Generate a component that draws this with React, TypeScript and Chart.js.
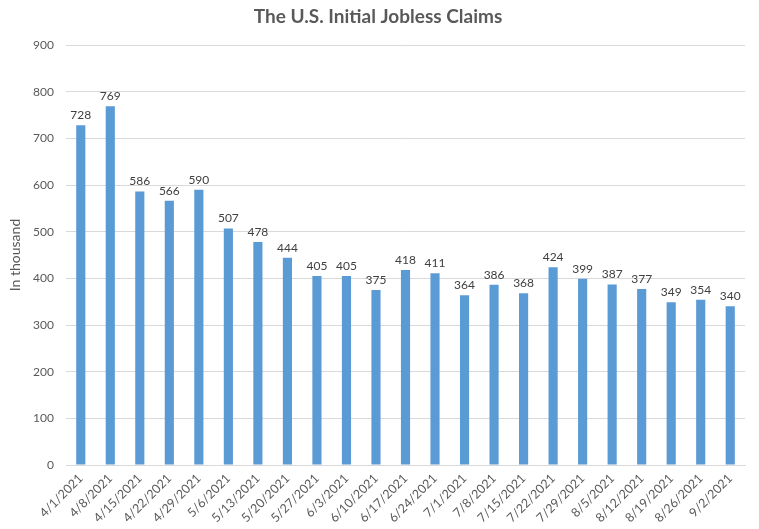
import React, { useEffect, useRef } from "react";
import { Chart, registerables } from "chart.js";

Chart.register(...registerables);

const categories = [
  "4/1/2021", "4/8/2021", "4/15/2021", "4/22/2021", "4/29/2021", "5/6/2021",
  "5/13/2021", "5/20/2021", "5/27/2021", "6/3/2021", "6/10/2021", "6/17/2021",
  "6/24/2021", "7/1/2021", "7/8/2021", "7/15/2021", "7/22/2021", "7/29/2021",
  "8/5/2021", "8/12/2021", "8/19/2021", "8/26/2021", "9/2/2021",
];
const claims = [
  728, 769, 586, 566, 590, 507, 478, 444, 405, 405, 375, 418,
  411, 364, 386, 368, 424, 399, 387, 377, 349, 354, 340,
];
const yTicks = [0, 100, 200, 300, 400, 500, 600, 700, 800, 900];
const titleText = "The U.S. Initial Jobless Claims";
const yTitle = "In thousand";

const FONT = "Lato, 'Open Sans', sans-serif";
const TEXT = "#595959";

const overlay = {
  id: "overlay",
  afterDatasetsDraw(chart: any) {
    const ctx = chart.ctx;
    ctx.save();
    // title
    ctx.fillStyle = TEXT;
    ctx.font = `bold 19px ${FONT}`;
    ctx.textAlign = "center";
    ctx.textBaseline = "middle";
    ctx.fillText(titleText, 378, 17);
    // data labels
    ctx.font = `12px ${FONT}`;
    ctx.fillStyle = "#404040";
    ctx.textBaseline = "bottom";
    const meta = chart.getDatasetMeta(0);
    meta.data.forEach((bar: any, i: number) => {
      ctx.fillText(String(claims[i]), bar.x, bar.y - 4);
    });
    ctx.restore();
  },
};

export default function App() {
  const ref = useRef<HTMLCanvasElement>(null);
  useEffect(() => {
    if (!ref.current) return;
    const chart = new Chart(ref.current, {
      type: "bar",
      data: {
        labels: categories,
        datasets: [
          {
            data: claims,
            backgroundColor: "#5B9BD5",
            barPercentage: 0.62,
            categoryPercentage: 0.5,
          },
        ],
      },
      options: {
        responsive: false,
        animation: false,
        layout: { padding: { top: 45, right: 14, left: 0, bottom: 0 } },
        plugins: {
          legend: { display: false },
          tooltip: { enabled: false },
          title: { display: false },
        },
        scales: {
          x: {
            grid: { display: false, drawTicks: false },
            border: { color: "#D9D9D9", width: 1 },
            ticks: {
              color: TEXT,
              font: { family: FONT, size: 12.5 },
              minRotation: 45,
              maxRotation: 45,
              autoSkip: false,
              padding: 6,
            },
            afterFit(scale: any) {
              scale.height = 64;
            },
          },
          y: {
            min: 0,
            max: 900,
            afterBuildTicks(scale: any) {
              scale.ticks = yTicks.map((v) => ({ value: v }));
            },
            grid: { color: "#D9D9D9", drawTicks: false },
            border: { display: false },
            ticks: {
              color: TEXT,
              font: { family: FONT, size: 12 },
              padding: 12,
            },
            title: {
              display: true,
              text: yTitle,
              color: TEXT,
              font: { family: FONT, size: 14 },
              padding: { top: 7, bottom: 4 },
            },
            afterFit(scale: any) {
              scale.width = 66;
            },
          },
        },
      },
      plugins: [overlay],
    });
    return () => chart.destroy();
  }, []);
  return (
    <div style={{ position: "fixed", left: 0, top: 0, width: 759, height: 529, background: "#fff" }}>
      <canvas ref={ref} width={759} height={529} style={{ width: 759, height: 529 }} />
    </div>
  );
}
